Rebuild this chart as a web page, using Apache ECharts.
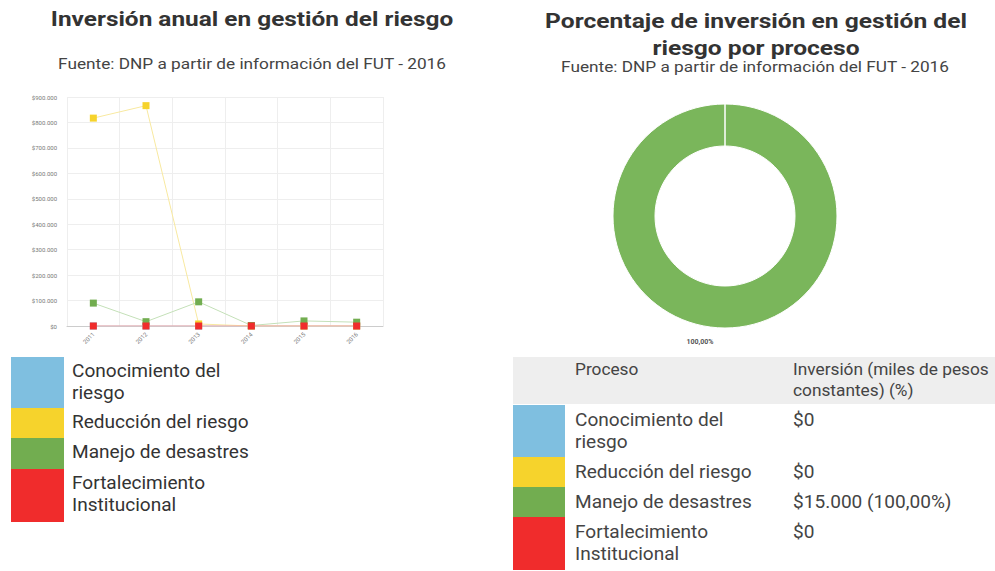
<!DOCTYPE html>
<html>
<head>
<meta charset="utf-8">
<script src="https://cdn.jsdelivr.net/npm/echarts@6/dist/echarts.min.js"></script>
<style>
html,body{margin:0;padding:0;background:#fff;}
#c{width:995px;height:571px;}
</style>
</head>
<body>
<div id="c"></div>
<script>
// ---- data ----
var years = ['2011', '2012', '2013', '2014', '2015', '2016'];
var conocimiento = [0, 0, 0, 0, 0, 0];
var reduccion = [817000, 866000, 8000, 0, 0, 0];
var manejo = [90000, 17000, 95000, 2000, 20000, 15000];
var fortalecimiento = [0, 0, 0, 0, 0, 0];
var procesos = ['Conocimiento del riesgo', 'Reducción del riesgo', 'Manejo de desastres', 'Fortalecimiento Institucional'];
var procesosLines = [['Conocimiento del', 'riesgo'], ['Reducción del riesgo'], ['Manejo de desastres'], ['Fortalecimiento', 'Institucional']];
var inversion2016 = [0, 0, 15000, 0];
var yMax = 900000, yStep = 100000;
var titleLeft = 'Inversión anual en gestión del riesgo';
var titleRight = ['Porcentaje de inversión en gestión del', 'riesgo por proceso'];
var fuente = 'Fuente: DNP a partir de información del FUT - 2016';
var tableHeader = ['Proceso', ['Inversión (miles de pesos', 'constantes) (%)']];

var colors = ['#7fbfe0', '#f6d32c', '#72ad50', '#f02c2c'];
var lineColors = ['#bfe0f0', '#f8e9a0', '#c4e0b8', '#f5a0a0'];
var pieGreen = '#7ab65b';
var FONT = 'Roboto, "Noto Sans", sans-serif';

function fmtMiles(v) {
  return '$' + String(Math.round(v)).replace(/\B(?=(\d{3})+(?!\d))/g, '.');
}
function fmtPct(p) {
  return p.toFixed(2).replace('.', ',') + '%';
}

var total = inversion2016.reduce(function (a, b) { return a + b; }, 0);

var lineSeriesData = [conocimiento, reduccion, manejo, fortalecimiento];
var series = lineSeriesData.map(function (d, i) {
  return {
    type: 'line', name: procesos[i], data: d,
    xAxisIndex: 0, yAxisIndex: 0,
    symbol: 'rect', symbolSize: 7,
    itemStyle: { color: colors[i] },
    lineStyle: { color: lineColors[i], width: 1 },
    z: 2 + i, animation: false
  };
});

var pieData = [];
inversion2016.forEach(function (v, i) {
  if (v > 0) pieData.push({ name: procesos[i], value: v, itemStyle: { color: i === 2 ? pieGreen : colors[i] } });
});
series.push({
  type: 'pie', center: [725, 216], radius: [70, 112],
  startAngle: 90, animation: false,
  itemStyle: { borderColor: '#ffffff', borderWidth: 1 },
  label: { show: true, position: 'outside', fontSize: 7, color: '#555', fontWeight: 'bold', fontFamily: FONT,
    formatter: function (p) { return fmtPct(p.value / total * 100); } },
  labelLine: { show: false },
  labelLayout: { x: 700, y: 342, align: 'center', verticalAlign: 'middle' },
  data: pieData
});

// ---- texts, legend (left) and table (right) ----
var graphics = [];
function txt(x, y, t, size, weight, color, sx, align) {
  graphics.push({
    type: 'text', x: x, y: y, scaleX: sx, z: 10,
    style: { text: t, font: (weight || 'normal') + ' ' + size + 'px ' + FONT, fill: color,
      textAlign: align || 'left', textVerticalAlign: 'middle' }
  });
}
// titles
txt(252, 19, titleLeft, 20, 'bold', '#333', 1.22, 'center');
txt(252, 64, fuente, 14, 'normal', '#444', 1.23, 'center');
txt(756, 21, titleRight[0], 20, 'bold', '#333', 1.23, 'center');
txt(756, 48, titleRight[1], 20, 'bold', '#333', 1.23, 'center');
txt(755, 67, fuente, 14, 'normal', '#444', 1.23, 'center');

// white seam at top of donut
graphics.push({ type: 'line', shape: { x1: 725, y1: 104, x2: 725, y2: 146 }, style: { stroke: '#ffffff', lineWidth: 1.5 }, z: 10 });

var rowHeights = [51, 30, 31, 53];
var ly = 357;
procesosLines.forEach(function (lines, i) {
  graphics.push({ type: 'rect', left: 11, top: ly, shape: { width: 53, height: rowHeights[i] }, style: { fill: colors[i] } });
  lines.forEach(function (t, k) {
    txt(72, ly + 14 + k * 22, t, 18, 'normal', '#333', 1.06);
  });
  ly += rowHeights[i];
});

// table header
graphics.push({ type: 'rect', left: 513, top: 357, shape: { width: 482, height: 47 }, style: { fill: '#eeeeee' } });
txt(575, 370, tableHeader[0], 16, 'normal', '#444', 1.08);
txt(793, 370, tableHeader[1][0], 16, 'normal', '#444', 1.08);
txt(793, 391, tableHeader[1][1], 16, 'normal', '#444', 1.08);
var ty = 405;
var tRowHeights = [52, 30, 30, 53];
procesosLines.forEach(function (lines, i) {
  graphics.push({ type: 'rect', left: 513, top: ty, shape: { width: 52, height: tRowHeights[i] }, style: { fill: colors[i] } });
  lines.forEach(function (t, k) {
    txt(575, ty + 15 + k * 22, t, 18, 'normal', '#444', 1.06);
  });
  var v = inversion2016[i];
  var s = fmtMiles(v) + (v > 0 ? ' (' + fmtPct(v / total * 100) + ')' : '');
  txt(793, ty + 15, s, 18, 'normal', '#444', 1.06);
  ty += tRowHeights[i];
});

var chart = echarts.init(document.getElementById('c'), null, { renderer: 'svg' });
chart.setOption({
  backgroundColor: '#ffffff',
  animation: false,
  textStyle: { fontFamily: FONT },
  grid: { left: 67, top: 97, width: 316, height: 229, containLabel: false },
  xAxis: {
    type: 'category', data: years, boundaryGap: true,
    axisLine: { show: true, lineStyle: { color: '#ccc' } },
    axisTick: { show: false },
    splitLine: { show: true, lineStyle: { color: '#eee' } },
    axisLabel: { rotate: 45, fontSize: 6, color: '#777', margin: 7, interval: 0 }
  },
  yAxis: {
    type: 'value', min: 0, max: yMax, interval: yStep,
    axisLine: { show: false }, axisTick: { show: false },
    splitLine: { lineStyle: { color: '#eee' } },
    axisLabel: { fontSize: 6, color: '#777', margin: 10, formatter: function (v) { return fmtMiles(v); } }
  },
  graphic: graphics,
  series: series
});
</script>
</body>
</html>
